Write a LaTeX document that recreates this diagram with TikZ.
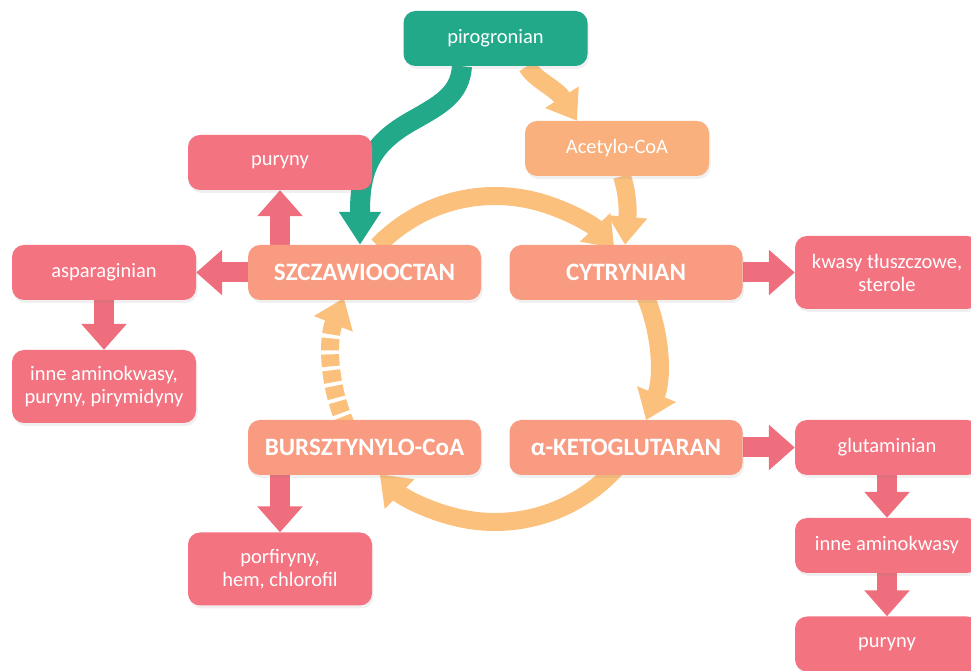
\documentclass[tikz,border=0pt]{standalone}
\usepackage{fontspec}
\setmainfont{Carlito}
\usetikzlibrary{arrows.meta,shadows,backgrounds}
\definecolor{tealc}{HTML}{21A98A}
\definecolor{acetc}{HTML}{FAB07C}
\definecolor{mainc}{HTML}{F89B80}
\definecolor{pinkc}{HTML}{F37381}
\definecolor{pinkarr}{HTML}{EF6E7D}
\definecolor{cycc}{HTML}{FBC07B}
\begin{document}
\begin{tikzpicture}[x=1pt,y=1pt,
  box/.style={rounded corners=12pt, text=white, inner sep=0pt, align=center,
    drop shadow={shadow xshift=1.5pt,shadow yshift=-3pt,opacity=0.12}},
  smallbox/.style={box, fill=pinkc, minimum width=184pt, minimum height=55pt,
    font=\fontsize{20.5}{23}\selectfont},
  tallbox/.style={smallbox, minimum height=73pt},
  mainbox/.style={box, fill=mainc, minimum width=233pt, minimum height=55pt,
    font=\fontsize{25}{30}\selectfont\bfseries},
  blockarr/.style={draw=pinkarr, line width=20pt, -{Triangle[width=44pt,length=26pt]}},
  cycarr/.style={draw=cycc, line width=18pt, -{Triangle[width=40pt,length=28pt]}},
  tealarr/.style={draw=tealc, line width=20pt, -{Triangle[width=40pt,length=33pt]}},
  orarr/.style={draw=cycc, line width=18pt, -{Triangle[width=38pt,length=28pt]}}
]
\useasboundingbox (0,0) rectangle (971,671);

\node[smallbox, fill=tealc] (pir) at (495.5,632.5) {pirogronian};
\node[smallbox, fill=acetc] (acet) at (617,522.5) {Acetylo-CoA};
\node[smallbox] (pur1) at (280,508.5) {puryny};
\node[mainbox] (szcz) at (364.5,398.5) {SZCZAWIOOCTAN};
\node[mainbox] (cytr) at (626,398.5) {CYTRYNIAN};
\node[smallbox] (asp) at (104,398.5) {asparaginian};
\node[tallbox] (kwasy) at (887,398.5) {kwasy tłuszczowe,\\sterole};
\node[tallbox] (inne1) at (104,284.5) {inne aminokwasy,\\puryny, pirymidyny};
\node[mainbox] (bursz) at (364.5,223.5) {BURSZTYNYLO-CoA};
\node[mainbox] (keto) at (626,223.5) {α-KETOGLUTARAN};
\node[smallbox] (glut) at (887,223.5) {glutaminian};
\node[smallbox] (inne2) at (887,125.5) {inne aminokwasy};
\node[smallbox] (pur2) at (887,27) {puryny};
\node[tallbox] (porf) at (280,102) {porfiryny,\\hem, chlorofil};
\coordinate (C) at (495,312);

\begin{scope}[on background layer]
  % cycle
  \draw[cycarr] (C) ++(136:163) arc[start angle=136, end angle=43, radius=163];
  \draw[cycarr] (C) ++(25:163) arc[start angle=25, end angle=-22, radius=163];
  \draw[cycarr] (C) ++(-40:163) arc[start angle=-40, end angle=-135, radius=163];
  \draw[cycarr, dash pattern=on 12pt off 4pt] (C) ++(-155:163) arc[start angle=-155, end angle=-202, radius=163];
  % inputs
  \draw[orarr] ([xshift=31.5pt]pir.south) .. controls (535,591) and (556,583) .. ([xshift=-40pt]acet.north);
  \draw[orarr] ([xshift=5pt]acet.south) .. controls (630,470) and (627,450) .. ([xshift=-1pt]cytr.north);
  \draw[tealarr] ([xshift=-33.5pt]pir.south) .. controls (460,576) and (440,566) .. (410,549)
     .. controls (370,526) and (360,501) .. (360,459) -- ([xshift=-4.5pt]szcz.north);
  % outputs
  \draw[blockarr] (szcz.west) -- (asp.east);
  \draw[blockarr] (szcz.north -| pur1.south) -- (pur1.south);
  \draw[blockarr] (asp.south) -- (inne1.north);
  \draw[blockarr] (cytr.east) -- (kwasy.west);
  \draw[blockarr] (keto.east) -- (glut.west);
  \draw[blockarr] (glut.south) -- (inne2.north);
  \draw[blockarr] (inne2.south) -- (pur2.north);
  \draw[blockarr] (bursz.south -| porf.north) -- (porf.north);
\end{scope}
\end{tikzpicture}
\end{document}
